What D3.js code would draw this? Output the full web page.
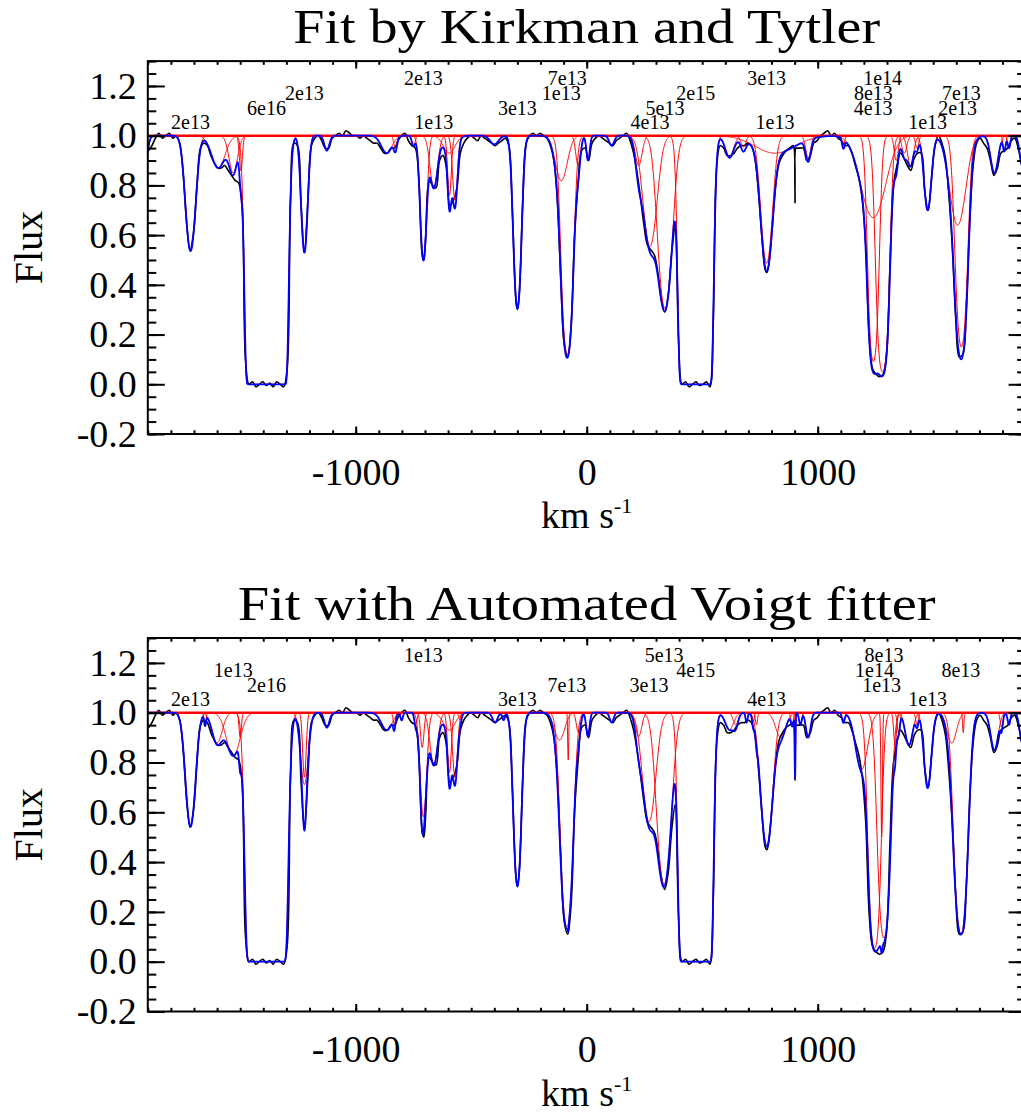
<!DOCTYPE html>
<html>
<head>
<meta charset="utf-8">
<script src="https://cdn.jsdelivr.net/npm/d3@7"></script>
<style>
body { margin: 0; background: #fff; }
text { font-family: "Liberation Serif", "Times New Roman", serif; fill: #000; }
</style>
</head>
<body>
<script>
// panel titles
var titles = ["Fit by Kirkman and Tytler", "Fit with Automated Voigt fitter"];

// axis ticks
var xMajor = [-1000, 0, 1000];
var yMajor = [-0.2, 0.0, 0.2, 0.4, 0.6, 0.8, 1.0, 1.2];
var continuum = 1.0;

var specVel = [
 -1897,-1882,-1867,-1852,-1837,-1822,-1807,-1792,-1777,-1762,
 -1747,-1732,-1717,-1702,-1687,-1672,-1657,-1642,-1627,-1612,
 -1597,-1582,-1567,-1552,-1537,-1522,-1507,-1492,-1477,-1462,
 -1447,-1432,-1417,-1402,-1387,-1372,-1357,-1342,-1327,-1312,
 -1297,-1282,-1267,-1252,-1237,-1222,-1207,-1192,-1177,-1162,
 -1147,-1132,-1117,-1102,-1087,-1072,-1057,-1042,-1027,-1012,
 -997,-982,-967,-952,-937,-922,-907,-892,-877,-862,
 -847,-832,-817,-802,-787,-772,-757,-742,-727,-712,-705,
 -697,-682,-667,-652,-637,-622,-607,-592,-577,-562,
 -547,-532,-517,-502,-487,-472,-457,-442,-427,-412,
 -397,-382,-367,-352,-337,-322,-307,-300,-292,-277,-262,
 -247,-232,-217,-202,-187,-172,-157,-142,-127,-112,
 -97,-82,-67,-52,-37,-22,-7,8,23,38,
 53,68,83,98,113,128,143,158,173,188,
 203,218,233,248,263,278,293,308,323,338,
 353,368,383,398,413,428,443,458,473,488,
 503,518,533,548,563,578,593,608,623,638,
 653,668,683,698,713,728,743,758,773,780,788,
 803,818,833,848,863,878,893,898,902,905,
 908,923,938,953,968,983,998,
 1013,1028,1043,1058,1073,1088,1103,1118,1133,1148,
 1163,1178,1193,1208,1223,1238,1253,1268,1283,1298,
 1313,1328,1343,1358,1373,1388,1403,1418,1433,1448,
 1463,1478,1493,1508,1523,1538,1553,1568,1583,1598,
 1613,1628,1643,1658,1673,1688,1703,1718,1733,1748,
 1763,1778,1793,1808,1823,1838,1853,1868,1883
];
var specFlux = [
 .94,.96,.99,1.01,.99,1.00,1.01,.99,1.00,.97,
 .85,.65,.54,.61,.80,.95,.97,.96,.92,.89,
 .87,.87,.88,.86,.84,.82,.81,.72,.10,.00,
 .01,-.01,.00,.01,-.005,.005,-.01,.01,.00,-.01,
 .06,.75,.97,.96,.73,.53,.74,.96,.99,1.00,
 .98,.95,.95,.99,1.00,1.01,1.00,1.02,1.01,1.00,
 1.00,.99,1.00,.99,.98,.97,.97,.95,.93,.93,
 .95,.95,.98,1.00,1.01,.98,.96,.95,.83,.52,.50,
 .59,.82,.80,.79,.90,.92,.87,.72,.74,.79,
 .93,.97,.99,1.00,.99,.98,1.00,.99,.98,.97,
 .96,.97,.98,.99,.96,.70,.35,.30,.36,.73,.97,
 1.00,1.01,1.00,1.01,1.00,.99,.96,.90,.74,.42,
 .16,.11,.24,.61,.81,.94,.95,.90,.97,.99,
 1.00,.99,.98,.97,.96,.98,.99,1.00,1.01,.98,
 .93,.85,.75,.64,.56,.54,.52,.45,.34,.29,
 .36,.53,.63,.17,.00,.01,-.01,.00,.01,-.005,
 .00,.01,-.01,.26,.88,.96,.95,.92,.92,.93,
 .95,.96,.96,.97,.96,.91,.78,.60,.46,.45,.48,
 .63,.80,.89,.92,.94,.95,.96,.95,.73,.95,
 .95,.95,.95,.90,.92,.97,.98,
 1.00,1.01,1.02,1.00,1.01,.99,.98,.96,.96,.93,
 .88,.83,.74,.56,.19,.06,.04,.03,.04,.12,
 .48,.80,.88,.93,.91,.88,.86,.91,.93,.93,
 .78,.70,.83,.96,1.00,.97,.91,.76,.55,.26,
 .11,.12,.30,.65,.88,.97,.99,.97,.95,.90,
 .84,.87,.93,.94,.95,.98,.99,.95,.89
];

// absorbers: [velocity, central optical depth, b (km/s), column label, label level]
var ktLines = [
 [-1925, 0.34, 20], [-1715, 0.624, 27.5, "2e13", 0], [-1595, 0.139, 40], [-1530, 0.163, 25],
 [-1497, 0.151, 9], [-1386, 1229, 36, "6e16", 1], [-1222, 0.635, 17.8, "2e13", 2], [-1125, 0.062, 15],
 [-866, 0.0726, 32], [-828, 0.051, 10], [-750, 0.04, 10], [-707, 0.693, 17.5, "2e13", 3],
 [-662, 0.236, 22, "1e13", 0], [-595, 0.0726, 35], [-594, 0.274, 11], [-570, 0.30, 14],
 [-400, 0.0356, 25], [-300, 1.19, 20, "3e13", 1], [-110, 0.20, 35, "1e13", 2], [-84, 2.12, 26, "7e13", 3],
 [-37, 0.128, 14], [6, 0.105, 10], [108, 0.041, 15], [225, 0.128, 20],
 [274, 0.59, 38, "4e13", 0], [339, 1.19, 36, "5e13", 1], [472, 300, 32.5, "2e15", 2], [618, 0.088, 25],
 [678, 0.046, 15], [779, 0.72, 31, "3e13", 3], [815, 0.073, 120, "1e13", 0], [959, 0.094, 15],
 [1111, 0.04, 8], [1240, 0.40, 70, "4e13", 1], [1241, 2.4, 23, "8e13", 2], [1281, 3.0, 26, "1e14", 3],
 [1340, 0.105, 12], [1375, 0.073, 15], [1402, 0.128, 18], [1430, 0.051, 10],
 [1476, 0.357, 21, "1e13", 0], [1606, 0.446, 45, "2e13", 1], [1622, 1.9, 27, "7e13", 2], [1765, 0.163, 22],
 [1808, 0.062, 8], [1828, 0.051, 8], [1885, 0.128, 15]
];
var avLines = [
 [-1715, 0.612, 27, "2e13", 0], [-1652, 0.046, 6], [-1600, 0.13, 30], [-1530, 0.19, 40, "1e13", 2],
 [-1500, 0.105, 7], [-1386, 410, 38.5, "2e16", 1], [-1222, 0.30, 10], [-1222, 0.34, 22],
 [-1125, 0.062, 15], [-866, 0.0726, 32], [-833, 0.05, 7], [-801, 0.03, 7],
 [-740, 0.05, 8], [-712, 0.15, 10], [-707, 0.54, 18, "1e13", 3], [-662, 0.236, 22],
 [-595, 0.0726, 35], [-594, 0.274, 11], [-570, 0.30, 14], [-548, 0.03, 8],
 [-397, 0.04, 15], [-360, 0.03, 8], [-300, 1.19, 20, "3e13", 0], [-118, 0.117, 30],
 [-86, 1.97, 28, "7e13", 1], [-80, 0.21, 3], [-36, 0.083, 12], [5, 0.10, 10],
 [108, 0.04, 12], [225, 0.10, 18], [270, 0.577, 36, "3e13", 1], [335, 1.18, 36, "5e13", 3],
 [472, 350, 32, "4e15", 2], [618, 0.07, 25], [645, 0.05, 15], [692, 0.04, 6],
 [721, 0.04, 6], [735, 0.05, 6], [779, 0.77, 32, "4e13", 0], [840, 0.105, 30],
 [890, 0.05, 8], [902, 0.30, 2.5], [925, 0.05, 8], [959, 0.105, 14],
 [1111, 0.04, 8], [1190, 0.26, 35], [1246, 2.92, 25, "1e14", 2], [1277, 0.69, 4, "1e13", 1],
 [1287, 2.36, 27, "8e13", 3], [1335, 0.14, 8], [1350, 0.083, 8], [1395, 0.14, 22],
 [1430, 0.05, 8], [1476, 0.36, 21, "1e13", 0], [1580, 0.13, 28], [1620, 2.2, 30, "8e13", 2],
 [1630, 0.083, 4], [1765, 0.163, 22], [1796, 0.06, 8], [1828, 0.05, 8], [1885, 0.128, 15]
];

var W = 1021, H = 1115;
var svg = d3.select("body").append("svg").attr("width", W).attr("height", H);
var defs = svg.append("defs");

var x = d3.scaleLinear().domain([-1900, 1900]).range([147.8, 1025.6]);

var panels = [
	{ title: titles[0], lines: ktLines, top: 61.1, bottom: 434, titleY: 43, titleLen: 587 },
	{ title: titles[1], lines: avLines, top: 638, bottom: 1011.5, titleY: 620, titleLen: 698 }
];

// transmission of one absorber at velocity v
function trans(l, v) {
	var u = (v - l[0]) / l[2];
	return Math.exp(-l[1] * Math.exp(-u * u));
}

panels.forEach(function (p, i) {
	drawPanel(p, i);
});

function drawPanel(p, idx) {
	var y = d3.scaleLinear().domain([-0.2, 1.3]).range([p.bottom, p.top]);
	var g = svg.append("g");

	defs.append("clipPath").attr("id", "clip" + idx)
		.append("rect")
		.attr("x", x(-1900)).attr("y", p.top)
		.attr("width", x(1900) - x(-1900)).attr("height", p.bottom - p.top);

	var plot = g.append("g").attr("clip-path", "url(#clip" + idx + ")");

	// observed spectrum
	var specLine = d3.line()
		.x(function (d) { return x(d[0]); })
		.y(function (d) { return y(d[1]); })
		.curve(d3.curveCatmullRom);
	plot.append("path")
		.datum(d3.zip(specVel, specFlux))
		.attr("d", specLine)
		.attr("fill", "none")
		.attr("stroke", "#000")
		.attr("stroke-width", 1.6);

	var line = d3.line()
		.x(function (d) { return x(d[0]); })
		.y(function (d) { return y(d[1]); });

	// individual components
	p.lines.forEach(function (l) {
		var half = l[2] * Math.sqrt(Math.log(l[1] / 1e-4));
		var step = Math.min(1, l[2] / 8);
		var pts = d3.range(l[0] - half, l[0] + half + step / 2, step).map(function (v) {
			return [v, trans(l, v)];
		});
		plot.append("path")
			.datum(pts)
			.attr("d", line)
			.attr("fill", "none")
			.attr("stroke", "#ff0000")
			.attr("stroke-width", 1);
	});

	plot.append("line")
		.attr("x1", x(-1900)).attr("x2", x(1900))
		.attr("y1", y(continuum)).attr("y2", y(continuum))
		.attr("stroke", "#ff0000")
		.attr("stroke-width", 2.6);

	// total fit
	var fit = d3.range(-1900, 1900.01, 0.5).map(function (v) {
		var f = 1;
		p.lines.forEach(function (l) { f *= trans(l, v); });
		return [v, f];
	});
	plot.append("path")
		.datum(fit)
		.attr("d", line)
		.attr("fill", "none")
		.attr("stroke", "#0000ff")
		.attr("stroke-width", 1.8);

	// column density labels
	g.selectAll("text.lab")
		.data(p.lines.filter(function (l) { return l[3]; }))
		.enter().append("text")
		.attr("class", "lab")
		.attr("x", function (l) { return x(l[0]); })
		.attr("y", function (l) { return y(1.025 + 0.059 * l[4]); })
		.attr("text-anchor", "middle")
		.attr("font-size", 20)
		.text(function (l) { return l[3]; });

	// axes, IDL style: box with inward ticks
	var ax = g.append("g");
	var xMinor = d3.range(-1900, 1901, 100);
	var yMinor = d3.range(-0.2, 1.31, 0.05);

	ax.append("g").attr("transform", "translate(0," + p.bottom + ")")
		.call(d3.axisBottom(x).tickValues(xMinor).tickSize(-3.7).tickFormat(""));
	ax.append("g").attr("transform", "translate(0," + p.bottom + ")")
		.call(d3.axisBottom(x).tickValues(xMajor).tickSize(-7.5).tickPadding(24)
			.tickFormat(function (d) { return String(d); }));
	ax.append("g").attr("transform", "translate(0," + p.top + ")")
		.call(d3.axisTop(x).tickValues(xMinor).tickSize(-3.7).tickFormat(""));
	ax.append("g").attr("transform", "translate(0," + p.top + ")")
		.call(d3.axisTop(x).tickValues(xMajor).tickSize(-7.5).tickFormat(""));
	ax.append("g").attr("transform", "translate(" + x(-1900) + ",0)")
		.call(d3.axisLeft(y).tickValues(yMinor).tickSize(-8.5).tickFormat(""));
	ax.append("g").attr("transform", "translate(" + x(-1900) + ",0)")
		.call(d3.axisLeft(y).tickValues(yMajor).tickSize(-17).tickPadding(11)
			.tickFormat(function (d) { return d.toFixed(1); }));
	ax.append("g").attr("transform", "translate(" + x(1900) + ",0)")
		.call(d3.axisRight(y).tickValues(yMinor).tickSize(-8.5).tickFormat(""));
	ax.append("g").attr("transform", "translate(" + x(1900) + ",0)")
		.call(d3.axisRight(y).tickValues(yMajor).tickSize(-17).tickFormat(""));

	ax.selectAll(".domain").remove();
	ax.selectAll("line").attr("stroke", "#000").attr("stroke-width", 2);
	ax.selectAll("text")
		.attr("font-family", "Liberation Serif, Times New Roman, serif")
		.attr("font-size", 38)
		.attr("fill", "#000");

	ax.append("rect")
		.attr("x", x(-1900)).attr("y", p.top)
		.attr("width", x(1900) - x(-1900)).attr("height", p.bottom - p.top)
		.attr("fill", "none").attr("stroke", "#000").attr("stroke-width", 2);

	// titles
	g.append("text")
		.attr("x", (x(-1900) + x(1900)) / 2).attr("y", p.titleY)
		.attr("text-anchor", "middle")
		.attr("font-size", 48)
		.attr("textLength", p.titleLen)
		.attr("lengthAdjust", "spacingAndGlyphs")
		.text(p.title);

	g.append("text")
		.attr("transform", "translate(42," + (p.top + p.bottom) / 2 + ") rotate(-90)")
		.attr("text-anchor", "middle")
		.attr("font-size", 40)
		.text("Flux");

	var xl = g.append("text")
		.attr("x", (x(-1900) + x(1900)) / 2).attr("y", p.bottom + 94)
		.attr("text-anchor", "middle")
		.attr("font-size", 38);
	xl.append("tspan").text("km s");
	xl.append("tspan").attr("font-size", 22).attr("dy", -15).text("-1");
}
</script>
</body>
</html>
